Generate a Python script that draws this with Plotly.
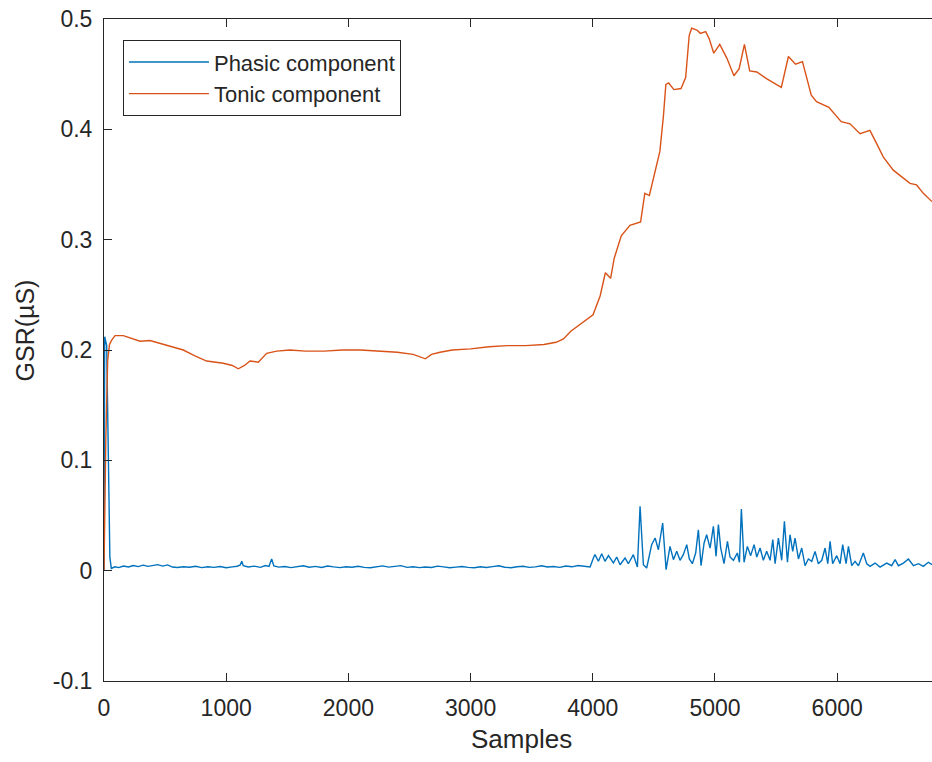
import plotly.graph_objects as go

# ---------------- data ----------------
tonic_x = [0, 15, 30, 45, 63, 90, 158, 230, 295, 376, 460, 540, 649, 740, 840, 976, 1050, 1099,
           1150, 1195, 1263, 1331, 1413, 1522, 1650, 1800, 1950, 2100, 2250, 2400, 2530, 2600, 2630,
           2680, 2750, 2850, 3000, 3150, 3300, 3450, 3600, 3700, 3760, 3820, 3880, 3940, 4002, 4060,
           4103, 4146, 4175, 4233, 4304, 4391, 4426, 4463, 4506, 4549, 4578, 4598, 4621, 4664, 4722,
           4760, 4789, 4809, 4852, 4881, 4924, 4953, 4990, 5039, 5097, 5155, 5198, 5241, 5284, 5342,
           5428, 5543, 5601, 5659, 5716, 5788, 5831, 5932, 6033, 6105, 6187, 6268, 6323, 6377, 6459,
           6596, 6650, 6705, 6776]
tonic_y = [0.0, 0.12, 0.19, 0.205, 0.209, 0.213, 0.213, 0.210, 0.208, 0.2086, 0.206, 0.203, 0.200,
           0.195, 0.190, 0.188, 0.186, 0.183, 0.186, 0.190, 0.189, 0.197, 0.199, 0.200, 0.199, 0.199,
           0.200, 0.200, 0.199, 0.198, 0.196, 0.193, 0.192, 0.196, 0.198, 0.200, 0.201, 0.203, 0.204,
           0.204, 0.205, 0.207, 0.210, 0.217, 0.222, 0.227, 0.232, 0.249, 0.270, 0.265, 0.283, 0.3035,
           0.313, 0.316, 0.342, 0.340, 0.359, 0.380, 0.412, 0.4407, 0.442, 0.436, 0.437, 0.447, 0.485,
           0.4917, 0.490, 0.487, 0.4886, 0.482, 0.469, 0.477, 0.4646, 0.4486, 0.455, 0.477, 0.453,
           0.452, 0.4455, 0.438, 0.466, 0.459, 0.4614, 0.431, 0.425, 0.420, 0.407, 0.405, 0.396, 0.399,
           0.387, 0.375, 0.363, 0.351, 0.3496, 0.342, 0.3345]

phasic_x = [0, 6, 22, 34, 48, 60, 90, 120, 160, 200, 240, 280, 320, 360, 400, 440, 480, 520, 560,
            600, 650, 700, 750, 800, 850, 900, 950, 1000, 1050, 1090, 1115, 1127, 1140, 1180, 1230,
            1280, 1320, 1350, 1372, 1390, 1430, 1480, 1530, 1580, 1630, 1680, 1730, 1780, 1830, 1880,
            1930, 1980, 2030, 2080, 2130, 2180, 2230, 2280, 2330, 2380, 2430, 2480, 2530, 2580, 2630,
            2680, 2730, 2780, 2830, 2880, 2930, 2980, 3030, 3080, 3130, 3180, 3230, 3280, 3330, 3380,
            3430, 3480, 3530, 3580, 3630, 3680, 3730, 3780, 3830, 3880, 3930, 3978,
            4005, 4018, 4046, 4073, 4100, 4128, 4169, 4196, 4223, 4264, 4291, 4332, 4365, 4387, 4414,
            4441, 4482, 4510, 4537, 4572, 4600, 4632, 4660, 4687, 4714, 4741, 4769, 4790, 4815, 4842,
            4864, 4886, 4911, 4932, 4960, 4987, 5009, 5028, 5047, 5074, 5102, 5123, 5151, 5183, 5200,
            5216, 5238, 5265, 5292, 5320, 5342, 5369, 5396, 5423, 5451, 5473, 5492, 5519, 5546, 5568,
            5593, 5614, 5636, 5655, 5683, 5710, 5737, 5764, 5792, 5819, 5846, 5874, 5901, 5923, 5942,
            5963, 5996, 6024, 6045, 6073, 6092, 6119, 6146, 6174, 6214, 6242, 6269, 6310, 6351, 6405,
            6446, 6474, 6501, 6542, 6583, 6624, 6665, 6705, 6746, 6776]
phasic_y = [0.0, 0.212, 0.204, 0.12, 0.012, 0.002, 0.0035, 0.0028, 0.0042, 0.0034, 0.0046, 0.0037,
            0.0050, 0.0039, 0.0048, 0.0055, 0.0041, 0.0052, 0.0033, 0.0029, 0.0036, 0.0031, 0.0040,
            0.0028, 0.0035, 0.0030, 0.0037, 0.0027, 0.0034, 0.0040, 0.0052, 0.0085, 0.0045, 0.0033,
            0.0041, 0.0030, 0.0046, 0.0038, 0.0106, 0.0042, 0.0032, 0.0038, 0.0028, 0.0035, 0.0044,
            0.0031, 0.0039, 0.0029, 0.0042, 0.0034, 0.0028, 0.0036, 0.0031, 0.0040, 0.0030, 0.0027,
            0.0035, 0.0043, 0.0032, 0.0038, 0.0046, 0.0030, 0.0036, 0.0028, 0.0033, 0.0029, 0.0041,
            0.0034, 0.0026, 0.0032, 0.0038, 0.0030, 0.0027, 0.0035, 0.0029, 0.0037, 0.0044, 0.0031,
            0.0027, 0.0036, 0.0040, 0.0030, 0.0034, 0.0045, 0.0033, 0.0038, 0.0030, 0.0042, 0.0035,
            0.0047, 0.0039, 0.0033,
            0.0115, 0.0145, 0.0085, 0.0154, 0.0085, 0.0136, 0.0070, 0.0124, 0.0054, 0.0115, 0.0063,
            0.0145, 0.0033, 0.0583, 0.0054, 0.0024, 0.0236, 0.0296, 0.0190, 0.0432, 0.0009, 0.0220,
            0.0100, 0.0175, 0.0094, 0.0145, 0.0236, 0.0106, 0.0063, 0.0160, 0.0371, 0.0045, 0.0251,
            0.0326, 0.0205, 0.0402, 0.0130, 0.0417, 0.0205, 0.0063, 0.0266, 0.0124, 0.0094, 0.0160,
            0.0076, 0.0559, 0.0076, 0.0220, 0.0136, 0.0236, 0.0124, 0.0205, 0.0094, 0.0175, 0.0094,
            0.0281, 0.0063, 0.0296, 0.0094, 0.0447, 0.0076, 0.0326, 0.0175, 0.0296, 0.0106, 0.0205,
            0.0045, 0.0106, 0.0085, 0.0175, 0.0063, 0.0094, 0.0205, 0.0063, 0.0266, 0.0063, 0.0136,
            0.0063, 0.0236, 0.0063, 0.0220, 0.0045, 0.0085, 0.0045, 0.0160, 0.0063, 0.0039, 0.0069,
            0.0033, 0.0069, 0.0045, 0.0100, 0.0045, 0.0069, 0.0106, 0.0045, 0.0063, 0.0039, 0.0076,
            0.0054]

x_ticks = [0, 1000, 2000, 3000, 4000, 5000, 6000]
x_tick_labels = ["0", "1000", "2000", "3000", "4000", "5000", "6000"]
y_ticks = [-0.1, 0, 0.1, 0.2, 0.3, 0.4, 0.5]
y_tick_labels = ["-0.1", "0", "0.1", "0.2", "0.3", "0.4", "0.5"]

TXT = "#262626"
FONT = "Liberation Sans, Arial, Helvetica, sans-serif"

fig = go.Figure()
fig.add_trace(go.Scatter(x=phasic_x, y=phasic_y, mode="lines", name="Phasic component",
                         line=dict(color="#0072BD", width=1.4)))
fig.add_trace(go.Scatter(x=tonic_x, y=tonic_y, mode="lines", name="Tonic component",
                         line=dict(color="#D95319", width=1.4)))

fig.update_layout(
    width=932, height=762,
    margin=dict(l=104, r=0, t=19, b=81),
    paper_bgcolor="white", plot_bgcolor="white",
    font=dict(family=FONT, color=TXT, size=23),
    showlegend=True,
    legend=dict(x=0.0229, y=0.968, xanchor="left", yanchor="top",
                bgcolor="white", bordercolor=TXT, borderwidth=1,
                font=dict(size=22, color=TXT, family=FONT), itemwidth=80,
                tracegroupgap=0),
    xaxis=dict(range=[0, 6776], tickvals=x_ticks, ticktext=x_tick_labels,
               ticks="inside", ticklen=8, tickcolor=TXT, tickwidth=1,
               showline=True, linecolor=TXT, linewidth=1, mirror="ticks",
               showgrid=False, zeroline=False, tickfont=dict(size=23, color=TXT),
               ticklabelstandoff=6),
    yaxis=dict(range=[-0.1, 0.5], tickvals=y_ticks, ticktext=y_tick_labels,
               ticks="inside", ticklen=8, tickcolor=TXT, tickwidth=1,
               showline=True, linecolor=TXT, linewidth=1, mirror=False,
               showgrid=False, zeroline=False, tickfont=dict(size=23, color=TXT),
               ticklabelstandoff=6),
    annotations=[
        dict(text="Samples", xref="paper", yref="paper", x=0.504, y=-0.088,
             xanchor="center", yanchor="middle", showarrow=False,
             font=dict(size=26, color=TXT, family=FONT)),
        dict(text="GSR(µS)", xref="paper", yref="paper", x=-0.095, y=0.53,
             xanchor="center", yanchor="middle", showarrow=False, textangle=-90,
             font=dict(size=25, color=TXT, family=FONT)),
    ],
)

fig.write_html("out.html", config={"displayModeBar": False},
               post_script="document.body.style.margin='0';document.body.style.overflow='hidden';")
